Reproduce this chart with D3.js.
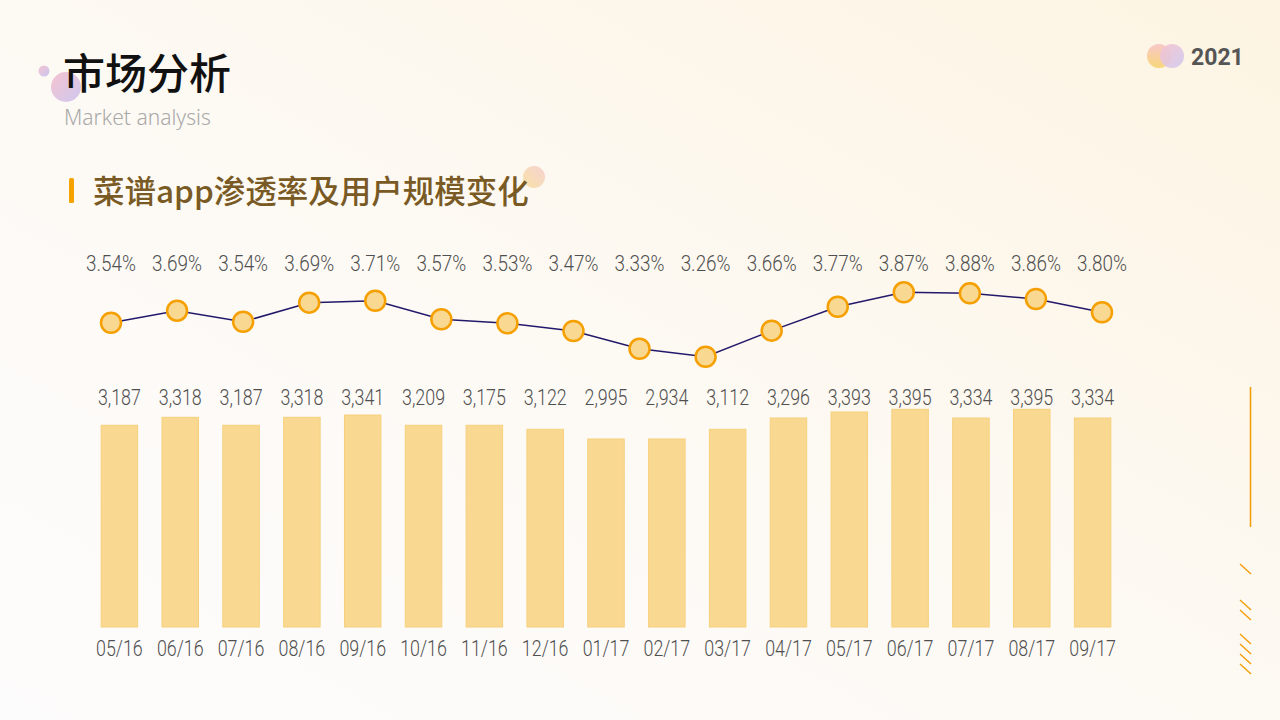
<!DOCTYPE html>
<html><head><meta charset="utf-8">
<script src="https://cdn.jsdelivr.net/npm/d3@7"></script>
<style>html,body{margin:0;padding:0;overflow:hidden;background:#fff}</style>
</head><body>
<svg id="c" width="1280" height="720"></svg>
<script>
const categories = ["05/16","06/16","07/16","08/16","09/16","10/16","11/16","12/16","01/17","02/17","03/17","04/17","05/17","06/17","07/17","08/17","09/17"];
// bar heights as drawn in the picture
const users = [3146,3270,3146,3270,3306,3146,3146,3083,2932,2932,3083,3259,3353,3395,3259,3395,3259];
const userLabels = ["3,187","3,318","3,187","3,318","3,341","3,209","3,175","3,122","2,995","2,934","3,112","3,296","3,393","3,395","3,334","3,395","3,334"];
// point heights as drawn in the picture (%)
const penetration = [3.587,3.706,3.597,3.785,3.804,3.621,3.582,3.506,3.331,3.252,3.509,3.745,3.887,3.877,3.821,3.690];
const penetrationLabels = ["3.54%","3.69%","3.54%","3.69%","3.71%","3.57%","3.53%","3.47%","3.33%","3.26%","3.66%","3.77%","3.87%","3.88%","3.86%","3.80%"];

const svg = d3.select("#c");
const defs = svg.append("defs");
const bg = defs.append("linearGradient").attr("id","bg").attr("x1","0").attr("y1","1").attr("x2","1").attr("y2","0");
bg.append("stop").attr("offset","0").attr("stop-color","#fdfcfc");
bg.append("stop").attr("offset","0.45").attr("stop-color","#fdfaf5");
bg.append("stop").attr("offset","1").attr("stop-color","#fdf4e2");
const g1 = defs.append("linearGradient").attr("id","g1").attr("x1","0").attr("y1","0").attr("x2","1").attr("y2","1");
g1.append("stop").attr("offset","0").attr("stop-color","#f7c4cf");
g1.append("stop").attr("offset","1").attr("stop-color","#c9c6f2");
const g2 = defs.append("linearGradient").attr("id","g2").attr("x1","0").attr("y1","0").attr("x2","0").attr("y2","1");
g2.append("stop").attr("offset","0").attr("stop-color","#f8c8c8");
g2.append("stop").attr("offset","1").attr("stop-color","#f8d77a");
const g3 = defs.append("linearGradient").attr("id","g3").attr("x1","0").attr("y1","0").attr("x2","1").attr("y2","1");
g3.append("stop").attr("offset","0").attr("stop-color","#f5c3cf");
g3.append("stop").attr("offset","1").attr("stop-color","#cfc8f0");
const g4 = defs.append("linearGradient").attr("id","g4").attr("x1","1").attr("y1","0").attr("x2","0").attr("y2","1");
g4.append("stop").attr("offset","0").attr("stop-color","#f6d2d2");
g4.append("stop").attr("offset","1").attr("stop-color","#f8e2a6");

svg.append("rect").attr("width",1280).attr("height",720).attr("fill","url(#bg)");

// header decorations
svg.append("circle").attr("cx",44).attr("cy",71).attr("r",5.5).attr("fill","url(#g1)");
svg.append("circle").attr("cx",66).attr("cy",87).attr("r",15).attr("fill","url(#g3)");
svg.append("text").attr("x",63).attr("y",89).attr("font-family","Noto Sans CJK SC").attr("font-weight",500)
  .attr("font-size",42).attr("fill","#111").text("市场分析");
svg.append("text").attr("x",64).attr("y",125).attr("font-family","Noto Sans, sans-serif").attr("font-weight",300)
  .attr("font-size",21).attr("fill","#a9a9a9").text("Market analysis");

svg.append("circle").attr("cx",1159).attr("cy",56).attr("r",12).attr("fill","url(#g2)");
svg.append("circle").attr("cx",1172).attr("cy",56).attr("r",12).attr("fill","url(#g3)").attr("opacity",0.9);
svg.append("text").attr("x",1191).attr("y",65).attr("font-family","Roboto").attr("font-weight",700)
  .attr("font-size",23).attr("fill","#555").text("2021");

svg.append("rect").attr("x",69).attr("y",178).attr("width",5).attr("height",25).attr("rx",1.5).attr("fill","#f5a300");
svg.append("circle").attr("cx",534).attr("cy",177).attr("r",11).attr("fill","url(#g4)");
svg.append("text").attr("x",93).attr("y",203).attr("font-family","Noto Sans CJK SC").attr("font-weight",500)
  .attr("font-size",31.5).attr("fill","#7a5a24").text("菜谱app渗透率及用户规模变化");

// right decorations
svg.append("line").attr("x1",1250.5).attr("x2",1250.5).attr("y1",387).attr("y2",527).attr("stroke","#f39a00").attr("stroke-width",1.5);
[564,600,610,634,644,654,664].forEach(y=>{
  svg.append("line").attr("x1",1240).attr("y1",y).attr("x2",1251).attr("y2",y+10).attr("stroke","#f39a00").attr("stroke-width",1.3);
});

// number font: narrow, tall, light (DIN-like)
const numStyle = sel => sel.attr("font-family","Roboto").attr("font-weight",300)
  .attr("font-size",21).attr("fill","#4f4f4f");
const sx = 0.85, sy = 1.08;

// bars
const xb = d3.scaleBand().domain(categories).range([89,1123]).paddingInner(0.4).paddingOuter(0.2);
const yb = d3.scaleLinear().domain([0,3395]).range([627,409.3]);
svg.append("g").selectAll("rect").data(users).join("rect")
  .attr("x",(d,i)=>xb(categories[i])).attr("width",xb.bandwidth())
  .attr("y",d=>yb(d)).attr("height",d=>yb(0)-yb(d))
  .attr("fill","#f9d891").attr("stroke","#f6d07c").attr("stroke-width",1);
svg.append("g").selectAll("text").data(userLabels).join("text")
  .attr("transform",(d,i)=>`translate(${xb(categories[i])+xb.bandwidth()/2},405) scale(${sx},${sy})`)
  .attr("text-anchor","middle").call(numStyle).text(d=>d);

svg.append("g").selectAll("text").data(categories).join("text")
  .attr("transform",d=>`translate(${xb(d)+xb.bandwidth()/2},656) scale(${sx},${sy})`)
  .attr("text-anchor","middle").call(numStyle).text(d=>d);

// line
const xl = d3.scalePoint().domain(d3.range(penetration.length)).range([111,1102]);
const yl = d3.scaleLinear().domain([3.2,3.9]).range([362,291]);
svg.append("path").datum(penetration)
  .attr("d",d3.line().x((d,i)=>xl(i)).y(d=>yl(d)))
  .attr("fill","none").attr("stroke","#23196b").attr("stroke-width",1.5);
svg.append("g").selectAll("circle").data(penetration).join("circle")
  .attr("cx",(d,i)=>xl(i)).attr("cy",d=>yl(d)).attr("r",10)
  .attr("fill","#f9d891").attr("stroke","#f5a000").attr("stroke-width",2.5);
svg.append("g").selectAll("text").data(penetrationLabels).join("text")
  .attr("transform",(d,i)=>`translate(${xl(i)},271) scale(0.9,${sy})`)
  .attr("text-anchor","middle").call(numStyle).text(d=>d);
</script>
</body></html>
